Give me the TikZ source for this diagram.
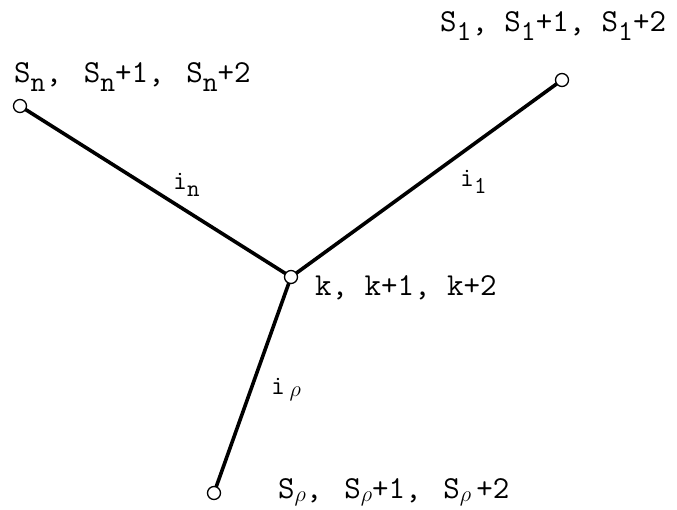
\documentclass[tikz,border=0pt]{standalone}
\usepackage{fontspec}
\setmonofont{Latin Modern Mono}
\newcommand\lsub[1]{\raisebox{-0.6ex}{\scalebox{0.9}{#1}}}
\newcommand\rsub{\raisebox{-0.25ex}{\scalebox{0.9}{$\rho$}}}
\begin{document}
\begin{tikzpicture}[x=1pt,y=-1pt,
  vtx/.style={circle,draw,fill=white,line width=1.3pt,inner sep=0pt,minimum size=13pt},
  edge/.style={line width=3.6pt},
  lbl/.style={font=\fontsize{32}{36}\selectfont\ttfamily,inner sep=0pt},
  elbl/.style={font=\fontsize{27}{30}\selectfont\ttfamily,inner sep=0pt}]
\useasboundingbox (0,0) rectangle (677,510);
\coordinate (kc) at (291,277);
\coordinate (nc) at (20,106);
\coordinate (oc) at (562,80);
\coordinate (rc) at (214,493);
\draw[edge] (kc) -- (nc);
\draw[edge] (kc) -- (oc);
\draw[edge] (kc) -- (rc);
\node[vtx] (k) at (kc) {};
\node[vtx] (n) at (nc) {};
\node[vtx] (o) at (oc) {};
\node[vtx] (r) at (rc) {};
\node[lbl,anchor=base west] (tn) at (14,83) {S\lsub{n},\ \,S\lsub{n}+1,\ \,S\lsub{n}+2};
\node[lbl,anchor=base west] (to) at (440,32) {S\lsub{1},\ S\lsub{1}+1,\ S\lsub{1}+2};
\node[lbl,anchor=base west] (tk) at (315,296) {k,\ k+1,\ k+2};
\node[lbl,anchor=base west] (tr) at (278,498) {S\rsub,\ \,S\rsub+1,\ \,S\rsub\,+2};
\node[elbl,anchor=base west] (in) at (173,190) {i\lsub{n}};
\node[elbl,anchor=base west] (io) at (460,187) {i\lsub{1}};
\node[elbl,anchor=base west] (ir) at (271,394) {i\,\rsub};
\end{tikzpicture}
\end{document}
